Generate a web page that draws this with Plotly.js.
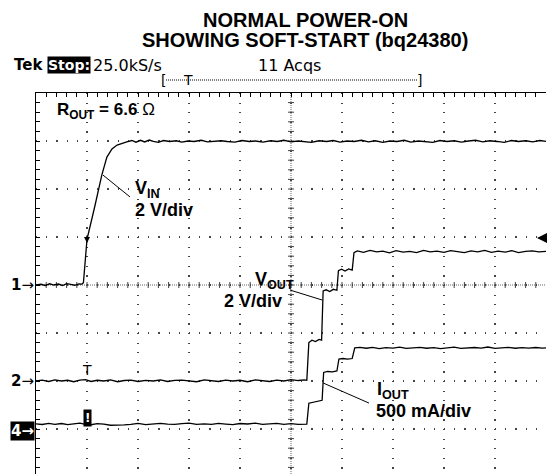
<!DOCTYPE html>
<html><head><meta charset="utf-8">
<script src="https://cdn.plot.ly/plotly-3.0.1.min.js"></script>
<style>html,body{margin:0;padding:0;background:#fff}</style>
</head><body><div id="chart" style="width:548px;height:474px"></div>
<script>
// ---- Data (time in ms, trigger at 0; values in physical units) ----
const vinTime = [-10, -9, -8.2, -7.3, -6.5, -5.6, -4.8, -4, -3.2, -2.4, -1.6, -1.0,
  -0.7, -0.4, 0, 1.5, 2.9, 3.9, 4.9, 5.9, 7.0, 7.8,
  8.8, 9.6, 10.5, 11.3, 12.2, 13.0, 14.0, 15.0, 16.2, 17.5,
  18.6, 19.8, 21, 22.4, 23.6, 25, 26.3, 27.5, 29, 30.4,
  31.8, 33, 34.5, 36, 37.3, 38.6, 40, 41.4, 42.8, 44,
  45.5, 47, 48.3, 49.6, 51, 52.4, 53.8, 55.2, 56.5, 58,
  59.4, 60.8, 62.2, 63.5, 65, 66.4, 67.8, 69.2, 70.6, 72,
  73.4, 74.8, 76.2, 77.6, 79, 80.4, 81.8, 83.2, 84.6, 86,
  87.4, 88.8, 90];
const vinVolts = [0, 0.03, -0.02, 0.05, 0, 0.04, -0.02, 0.06, 0.03, -0.01, 0.05, 0.04,
  0.1, 1.0, 1.9, 3.25, 4.58, 5.33, 5.67, 5.83, 5.92, 5.96,
  6.02, 5.95, 6.03, 5.96, 6.04, 5.98, 5.94, 6.02, 5.98, 6.01,
  5.95, 6.0, 5.98, 6.03, 5.96, 5.98, 6.01, 5.98, 5.95, 6.02,
  5.98, 6.0, 5.95, 6.01, 5.98, 6.03, 5.96, 6.0, 5.98, 5.94,
  6.01, 5.98, 6.02, 5.95, 6.0, 5.98, 6.03, 5.96, 6.01, 5.94,
  6.0, 5.98, 6.03, 5.95, 6.0, 5.98, 5.94, 6.02, 5.98, 6.01,
  5.95, 6.0, 6.03, 5.96, 6.01, 5.98, 5.94, 6.02, 5.98, 6.01,
  5.96, 6.02, 5.98];

const voutTime = [-10, -8.8, -7.5, -6.3, -5, -3.8, -2.6, -1.4, -0.3, 0.8,
  2, 3.3, 4.6, 6, 7.3, 8.6, 10, 11.5, 13, 14.4,
  15.8, 17.2, 18.6, 20, 21.5, 23, 24.4, 25.8, 27.2, 28.6,
  30, 31.5, 33, 34.4, 35.8, 37.2, 38.6, 40, 41.4, 42.6,
  43.1, 43.5, 44.1, 44.8, 45.5, 46.0, 46.3, 46.9, 47.6, 48.3,
  49.0, 49.3, 49.9, 50.6, 51.3, 52.0, 52.35, 53, 54.2, 55.5,
  56.8, 58, 59.3, 60.6, 62, 63.3, 64.6, 66, 67.3, 68.6,
  70, 71.3, 72.6, 74, 75.3, 76.6, 78, 79.3, 80.6, 82,
  83.3, 84.6, 86, 87.3, 88.6, 90];
const voutVolts = [0, 0.04, -0.02, 0.05, 0, 0.03, -0.03, 0.04, 0.06, -0.02,
  0.03, 0, 0.05, -0.03, 0.02, 0.04, -0.02, 0.03, 0, 0.05,
  -0.02, 0.03, 0.04, 0, -0.03, 0.05, 0.02, -0.02, 0.04, 0,
  0.03, -0.03, 0.05, 0.01, -0.02, 0.04, 0, 0.06, 0.02, 0.05,
  0.03, 1.6, 1.7, 1.64, 1.73, 1.7, 3.75, 3.8, 3.73, 3.82,
  3.78, 4.6, 4.66, 4.58, 4.67, 4.62, 5.35, 5.42, 5.36, 5.44,
  5.38, 5.41, 5.34, 5.43, 5.37, 5.40, 5.35, 5.44, 5.38, 5.41,
  5.36, 5.43, 5.39, 5.35, 5.42, 5.38, 5.44, 5.36, 5.41, 5.37,
  5.43, 5.35, 5.40, 5.42, 5.38, 5.40];

const ioutTime = [-10, -8.8, -7.5, -6.3, -5, -3.8, -2.6, -1.4, -0.3, 0.8,
  2, 3.3, 4.6, 6, 7.3, 8.6, 10, 11.5, 13, 14.4,
  15.8, 17.2, 18.6, 20, 21.5, 23, 24.4, 25.8, 27.2, 28.6,
  30, 31.5, 33, 34.4, 35.8, 37.2, 38.6, 40, 41.4, 42.6,
  43.1, 43.5, 44.5, 45.5, 46.1, 46.4, 47.2, 48.1, 49.0, 49.4,
  50.2, 51.1, 52.0, 52.5, 53.5, 54.8, 56, 57.3, 58.6, 60,
  61.3, 62.6, 64, 65.3, 66.6, 68, 69.3, 70.6, 72, 73.3,
  74.6, 76, 77.3, 78.6, 80, 81.3, 82.6, 84, 85.3, 86.6,
  88, 89.3, 90];
const ioutAmps = [0.075, 0.068, 0.08, 0.07, 0.078, 0.066, 0.074, 0.082, 0.07, 0.065,
  0.076, 0.072, 0.06, 0.058, 0.064, 0.07, 0.079, 0.066, 0.073, 0.08,
  0.071, 0.068, 0.077, 0.083, 0.07, 0.075, 0.068, 0.079, 0.072, 0.066,
  0.078, 0.073, 0.081, 0.069, 0.074, 0.079, 0.07, 0.076, 0.068, 0.074,
  0.072, 0.29, 0.30, 0.31, 0.32, 0.61, 0.62, 0.615, 0.625, 0.75,
  0.755, 0.748, 0.755, 0.865, 0.872, 0.862, 0.87, 0.858, 0.868, 0.863,
  0.874, 0.86, 0.866, 0.871, 0.862, 0.869, 0.858, 0.867, 0.873, 0.861,
  0.866, 0.87, 0.864, 0.875, 0.86, 0.866, 0.871, 0.862, 0.868, 0.864,
  0.87, 0.863, 0.866];

// ---- Geometry helpers (pixel -> paper) ----
const W = 548, H = 474, ML = 36, MR = 2, MT = 93, MB = 0;
const PW = W - ML - MR, PH = H - MT - MB;
const px = x => (x - ML) / PW;
const py = y => (H - MB - y) / PH;

const X_RANGE = [-10, 90];          // 10 ms/div, trigger 1 div from left
const Y1_RANGE = [-7.875, 8];       // VIN: 2 V/div, ground at div 4
const Y2_RANGE = [-3.875, 12];      // VOUT: 2 V/div, ground at div 2
const Y3_RANGE = [-0.4479, 3.5208]; // IOUT: 0.5 A/div
const X_CENTER = 40, Y_CENTER = 0;

const FONT = 'Liberation Sans, Arial, sans-serif';
const TEK = 'DejaVu Sans, sans-serif';
const line = {color: '#000', width: 1.3};

const traces = [
  {x: vinTime, y: vinVolts, type: 'scatter', mode: 'lines', line, yaxis: 'y', name: 'VIN', hoverinfo: 'skip'},
  {x: voutTime, y: voutVolts, type: 'scatter', mode: 'lines', line, yaxis: 'y2', name: 'VOUT', hoverinfo: 'skip'},
  {x: ioutTime, y: ioutAmps, type: 'scatter', mode: 'lines', line, yaxis: 'y3', name: 'IOUT', hoverinfo: 'skip'}
];

const hidden = r => ({overlaying: 'y', range: r, visible: false, fixedrange: true});

// graticule tick marks along the centre cross (every 1/5 division)
const tickShapes = [];
const tickStyle = {color: '#444', width: 1};
for (let t = X_RANGE[0] + 2; t < X_RANGE[1]; t += 2) {
  tickShapes.push({type: 'line', layer: 'below', xref: 'x', yref: 'y', ysizemode: 'pixel', yanchor: Y_CENTER,
    x0: t, x1: t, y0: -3, y1: 3, line: tickStyle});
}
for (let v = -7.6; v < 8; v += 0.4) {
  tickShapes.push({type: 'line', layer: 'below', xref: 'x', yref: 'y', xsizemode: 'pixel', xanchor: X_CENTER,
    y0: v, y1: v, x0: -3, x1: 3, line: tickStyle});
}

const ann = (o) => Object.assign({showarrow: false, xanchor: 'left', yanchor: 'middle',
  font: {family: FONT, size: 18, color: '#000'}}, o);

const layout = {
  width: W, height: H,
  margin: {l: ML, r: MR, t: MT, b: MB, pad: 0},
  paper_bgcolor: '#fff', plot_bgcolor: '#fff',
  showlegend: false,
  font: {family: FONT, color: '#000'},
  xaxis: {range: X_RANGE, side: 'top', showline: true, linecolor: '#000', linewidth: 1.5,
    ticks: 'inside', ticklen: 4, tickcolor: '#000', dtick: 10, tick0: 0,
    minor: {dtick: 2, ticks: 'inside', ticklen: 4, tickcolor: '#000'},
    showgrid: true, gridcolor: '#444', gridwidth: 1.2, griddash: '1.2px,8.4px',
    showticklabels: false, zeroline: false, fixedrange: true},
  yaxis: {range: Y1_RANGE, showline: true, linecolor: '#000', linewidth: 1.5,
    ticks: 'inside', ticklen: 4, tickcolor: '#000', dtick: 2, tick0: 0,
    minor: {dtick: 0.4, ticks: 'inside', ticklen: 4, tickcolor: '#000'},
    showgrid: true, gridcolor: '#444', gridwidth: 1.2, griddash: '1.2px,9px',
    showticklabels: false, zeroline: false, fixedrange: true},
  yaxis2: hidden(Y2_RANGE),
  yaxis3: hidden(Y3_RANGE),
  shapes: [
    {type: 'line', layer: 'below', xref: 'x', yref: 'paper', x0: X_CENTER, x1: X_CENTER, y0: 0, y1: 1,
     line: {color: '#666', width: 1, dash: '1px,1px'}},
    {type: 'line', layer: 'below', xref: 'paper', yref: 'y', x0: 0, x1: 1, y0: Y_CENTER, y1: Y_CENTER,
     line: {color: '#666', width: 1, dash: '1px,1px'}},
    // leader lines
    {type: 'line', xref: 'x', yref: 'y', x0: 3.14, y0: 4.58, x1: 8.43, y1: 3.67, line: {color: '#000', width: 1}},
    {type: 'line', xref: 'x', yref: 'y', x0: 39.8, y0: -0.21, x1: 46.1, y1: -0.625, line: {color: '#000', width: 1}},
    {type: 'line', xref: 'x', yref: 'y', x0: 46.27, y0: -4.08, x1: 55.3, y1: -4.92, line: {color: '#000', width: 1}},
    // record bracket dotted line
    {type: 'line', xref: 'paper', yref: 'paper', x0: px(166), x1: px(417), y0: py(80), y1: py(80),
     line: {color: '#000', width: 1, dash: '1px,1px'}}
  ].concat(tickShapes),
  annotations: [
    // title
    ann({xref: 'paper', yref: 'paper', x: px(305), y: py(20), xanchor: 'center',
         text: '<b>NORMAL POWER-ON</b>', font: {family: FONT, size: 20, color: '#000'}}),
    ann({xref: 'paper', yref: 'paper', x: px(305), y: py(40), xanchor: 'center',
         text: '<b>SHOWING SOFT-START (bq24380)</b>', font: {family: FONT, size: 20, color: '#000'}}),
    // Tek header
    ann({xref: 'paper', yref: 'paper', x: px(12), y: py(65), text: '<b>Tek</b>', font: {family: TEK, size: 15, color: '#000'}}),
    ann({xref: 'paper', yref: 'paper', x: px(47), y: py(65), text: '<b>Stop:</b>', bgcolor: '#000', borderpad: 0,
         font: {family: TEK, size: 14, color: '#fff'}}),
    ann({xref: 'paper', yref: 'paper', x: px(91), y: py(65), text: '25.0kS/s', font: {family: TEK, size: 16, color: '#000'}}),
    ann({xref: 'paper', yref: 'paper', x: px(256), y: py(65), text: '11 Acqs', font: {family: TEK, size: 16, color: '#000'}}),
    ann({xref: 'paper', yref: 'paper', x: px(163), y: py(80), xanchor: 'center', text: '[', font: {family: TEK, size: 14, color: '#000'}}),
    ann({xref: 'paper', yref: 'paper', x: px(419), y: py(80), xanchor: 'center', text: ']', font: {family: TEK, size: 14, color: '#000'}}),
    ann({xref: 'paper', yref: 'paper', x: px(188), y: py(80), xanchor: 'center', text: 'T', font: {family: TEK, size: 14, color: '#000'}}),
    // channel ground markers
    ann({xref: 'paper', yref: 'y', x: px(36), y: 0, xanchor: 'right', text: '<b>1</b>→', font: {family: TEK, size: 15, color: '#000'}}),
    ann({xref: 'paper', yref: 'y2', x: px(36), y: 0, xanchor: 'right', text: '<b>2</b>→', font: {family: TEK, size: 15, color: '#000'}}),
    ann({xref: 'paper', yref: 'y3', x: px(35), y: 0, xanchor: 'right', text: '<b>4→</b>', bgcolor: '#000', borderpad: 0,
         font: {family: TEK, size: 15, color: '#fff'}}),
    // trigger markers
    ann({xref: 'x', yref: 'y2', x: 0, y: 0.05, yanchor: 'bottom', xanchor: 'center', text: 'T', font: {family: TEK, size: 14, color: '#000'}}),
    ann({xref: 'x', yref: 'y3', x: 0, y: 0.135, xanchor: 'center', text: '<b>!</b>', bgcolor: '#000', borderpad: 1,
         font: {family: TEK, size: 12, color: '#fff'}}),
    {xref: 'x', yref: 'y', x: 0, y: 1.75, text: '', showarrow: true, ax: 0, ay: -9,
     arrowhead: 2, arrowsize: 0.8, arrowwidth: 1.5, arrowcolor: '#000'},
    // trigger level arrow
    {xref: 'paper', yref: 'y', x: px(537), y: 1.96, text: '', showarrow: true, ax: 10, ay: 0,
     arrowhead: 2, arrowsize: 1, arrowwidth: 2, arrowcolor: '#000'},
    // labels
    ann({xref: 'x', yref: 'y', x: -6.27, y: 7.25, text: '<b>R<sub>OUT</sub> = 6.6 </b>Ω', font: {family: FONT, size: 17, color: '#000'}}),
    ann({xref: 'x', yref: 'y', x: 9.0, y: 4.0, text: '<b>V<sub>IN</sub></b>'}),
    ann({xref: 'x', yref: 'y', x: 9.0, y: 3.125, text: '<b>2 V/div</b>'}),
    ann({xref: 'x', yref: 'y', x: 32.5, y: 0.2, text: '<b>V<sub>OUT</sub></b>'}),
    ann({xref: 'x', yref: 'y', x: 38.6, y: -0.667, xanchor: 'right', text: '<b>2 V/div</b>'}),
    ann({xref: 'x', yref: 'y', x: 56.5, y: -4.375, text: '<b>I<sub>OUT</sub></b>'}),
    ann({xref: 'x', yref: 'y', x: 56.3, y: -5.23, text: '<b>500 mA/div</b>'})
  ]
};

Plotly.newPlot('chart', traces, layout, {staticPlot: true, displayModeBar: false});
</script>
</body></html>
